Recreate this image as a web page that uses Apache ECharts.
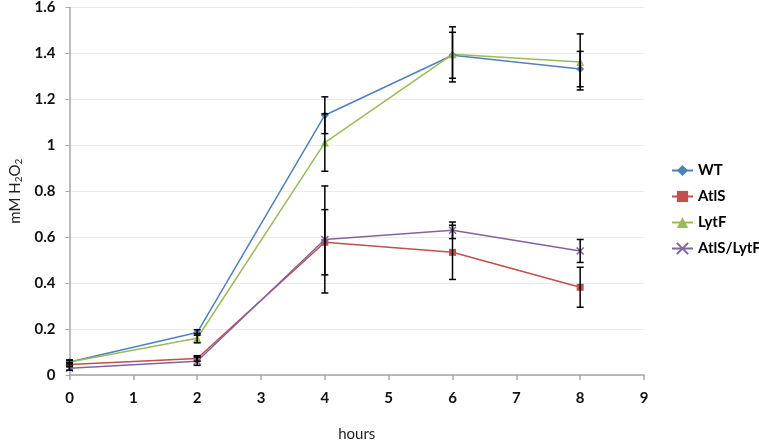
<!DOCTYPE html>
<html><head><meta charset="utf-8">
<script src="https://cdn.jsdelivr.net/npm/echarts@6/dist/echarts.min.js"></script>
<style>html,body{margin:0;padding:0;background:#fff}#c{width:759px;height:447px}</style>
</head><body><div id="c"></div>
<script>
var hours = [0, 2, 4, 6, 8];
var wt = [0.057, 0.185, 1.131, 1.392, 1.332];
var wtErr = [0.008, 0.012, 0.08, 0.10, 0.077];
var atls = [0.046, 0.072, 0.578, 0.534, 0.382];
var atlsErr = [0.008, 0.012, 0.142, 0.118, 0.087];
var lytf = [0.057, 0.160, 1.012, 1.396, 1.363];
var lytfErr = [0.008, 0.02, 0.125, 0.12, 0.122];
var dbl = [0.029, 0.060, 0.590, 0.630, 0.540];
var dblErr = [0.008, 0.018, 0.233, 0.036, 0.05];
var names = ['WT', 'AtlS', 'LytF', 'AtlS/LytF'];
var colors = ['#4f81bd', '#c0504d', '#9bbb59', '#8064a2'];

var vals = [wt, atls, lytf, dbl];
var errs = [wtErr, atlsErr, lytfErr, dblErr];
var symbols = ['diamond', 'rect', 'triangle', 'path://M0,0L10,10M10,0L0,10'];
var sizes = [8, 7, 8, 7];

function pairs(v){ return hours.map(function(h,i){ return [h, v[i]]; }); }

var series = [];
for (var s = 0; s < 4; s++) {
  series.push({
    name: names[s], type: 'line', data: pairs(vals[s]),
    symbol: symbols[s], symbolSize: sizes[s], showSymbol: true,
    lineStyle: {color: colors[s], width: 1.5},
    itemStyle: s === 3 ? {color: colors[s], borderColor: colors[s], borderWidth: 1.5} : {color: colors[s]},
    z: 2
  });
}
for (var s2 = 0; s2 < 4; s2++) {
  (function(k){
    series.push({
      type: 'custom', silent: true, z: 3,
      data: hours.map(function(h,i){ return [h, vals[k][i] - errs[k][i], vals[k][i] + errs[k][i]]; }),
      renderItem: function(params, api){
        var lo = api.coord([api.value(0), api.value(1)]);
        var hi = api.coord([api.value(0), api.value(2)]);
        var w = 3.5;
        var st = {stroke: '#000', lineWidth: 1.5};
        return {type: 'group', children: [
          {type: 'line', shape: {x1: lo[0], y1: lo[1], x2: hi[0], y2: hi[1]}, style: st},
          {type: 'line', shape: {x1: lo[0]-w, y1: lo[1], x2: lo[0]+w, y2: lo[1]}, style: st},
          {type: 'line', shape: {x1: hi[0]-w, y1: hi[1], x2: hi[0]+w, y2: hi[1]}, style: st}
        ]};
      }
    });
  })(s2);
}

var chart = echarts.init(document.getElementById('c'));
chart.setOption({
  animation: false,
  backgroundColor: '#fff',
  grid: {left: 67.5, right: 115, top: 7.5, bottom: 67, containLabel: false},
  legend: {
    orient: 'vertical', left: 666, top: 158, itemGap: 11, itemWidth: 21, itemHeight: 14,
    data: names,
    textStyle: {fontFamily: 'Lato', fontWeight: 'bold', fontSize: 15, color: '#000'}
  },
  xAxis: {
    type: 'value', min: 0, max: 9, interval: 1,
    name: 'hours', nameLocation: 'middle', nameGap: 52,
    nameTextStyle: {fontFamily: 'Lato', fontSize: 15, color: '#222'},
    axisLine: {show: true, lineStyle: {color: '#a6a6a6', width: 1.5}},
    axisTick: {show: true, length: 5, lineStyle: {color: '#a6a6a6', width: 1.5}},
    axisLabel: {margin: 16, fontFamily: 'Lato', fontWeight: 'bold', fontSize: 15, color: '#111'},
    splitLine: {show: false}
  },
  yAxis: {
    type: 'value', min: 0, max: 1.6, interval: 0.2,
    name: '{n|mM H}{s|2}{n|O}{s|2}', nameLocation: 'middle', nameGap: 46, nameRotate: 90,
    nameTextStyle: {rich: {
      n: {fontFamily: 'Lato', fontSize: 15, color: '#222'},
      s: {fontFamily: 'Lato', fontSize: 10, color: '#222', verticalAlign: 'bottom', padding: [6,0,0,0]}
    }},
    axisLine: {show: true, lineStyle: {color: '#a6a6a6', width: 1.5}},
    axisTick: {show: true, length: 4, lineStyle: {color: '#a6a6a6', width: 1}},
    axisLabel: {margin: 14, fontFamily: 'Lato', fontWeight: 'bold', fontSize: 15, color: '#111',
      formatter: function(v){ return String(+v.toFixed(1)); }},
    splitLine: {show: true, lineStyle: {color: '#ebebeb', width: 1}}
  },
  series: series
});
</script></body></html>
